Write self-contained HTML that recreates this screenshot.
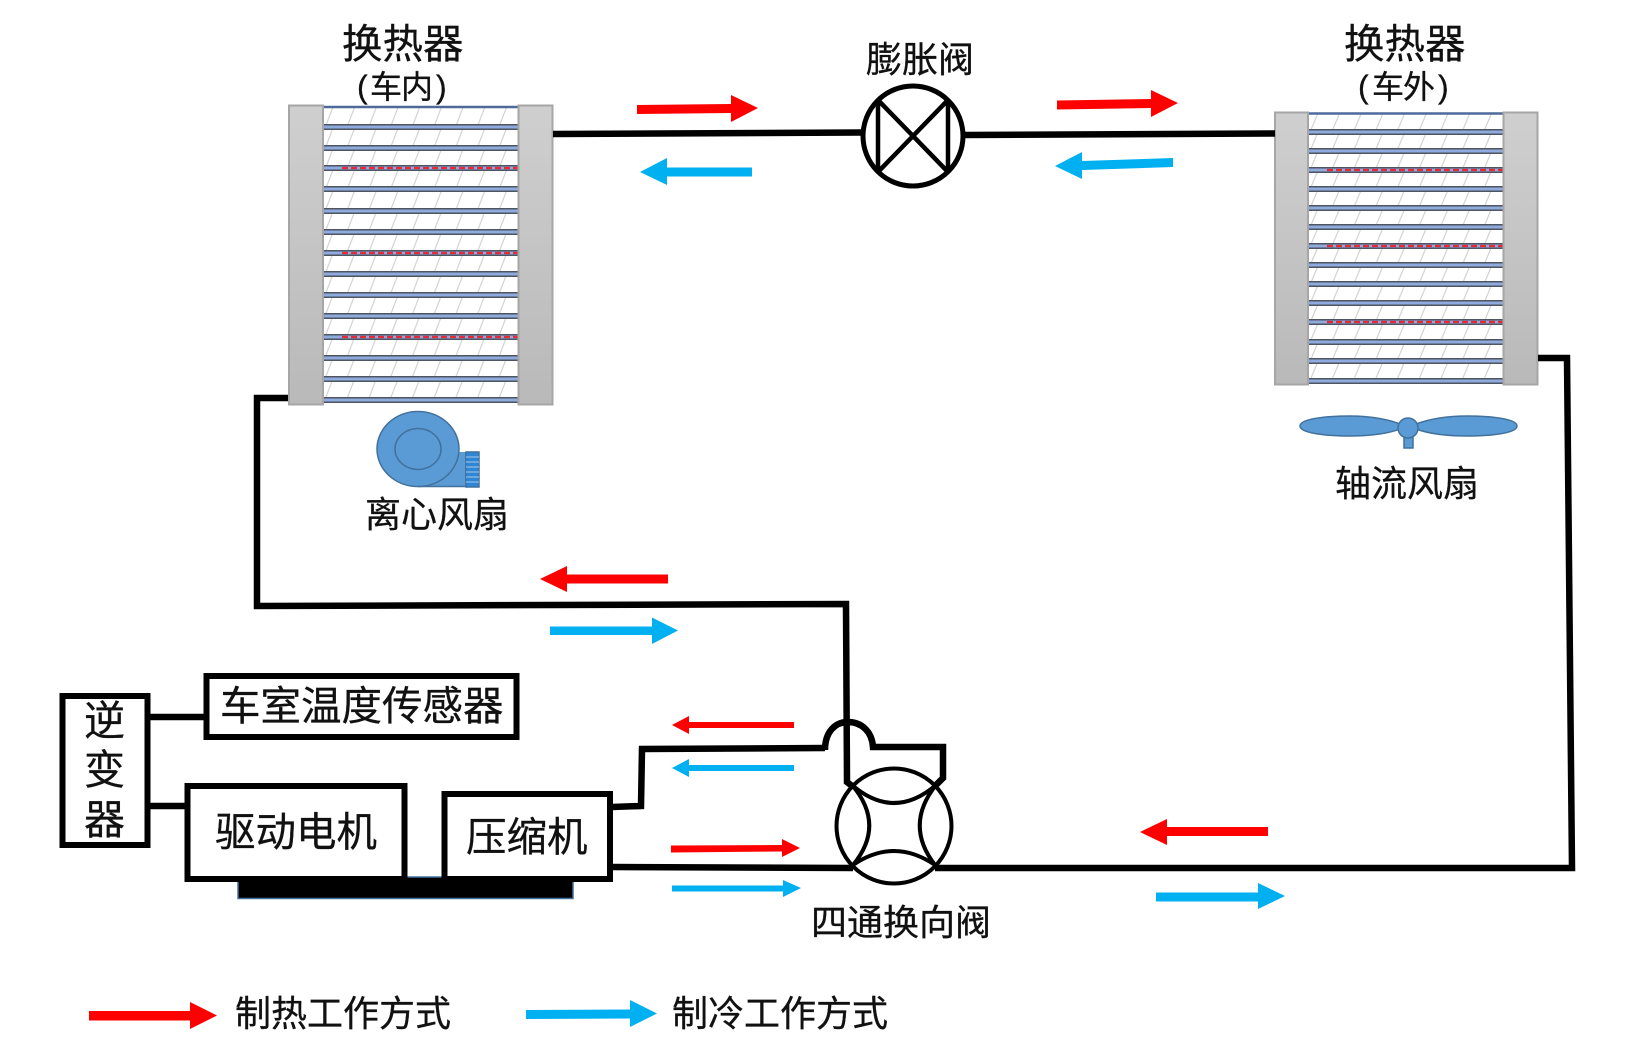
<!DOCTYPE html>
<html lang="zh">
<head>
<meta charset="utf-8">
<title>热泵系统</title>
<style>
html,body{margin:0;padding:0;background:#fff;width:1641px;height:1043px;overflow:hidden}
svg{display:block}
text{font-family:"Liberation Sans","Noto Sans CJK SC",sans-serif;fill:#111;stroke:#111;stroke-width:.3}
</style>
</head>
<body>
<svg xmlns="http://www.w3.org/2000/svg" width="1641" height="1043" viewBox="0 0 1641 1043">
<defs>
<linearGradient id="g" x1="0" y1="0" x2="0" y2="1"><stop offset="0" stop-color="#cfcfcf"/><stop offset="1" stop-color="#b9b9b9"/></linearGradient>
<pattern id="hL" patternUnits="userSpaceOnUse" x="323" y="107" width="21.7" height="20.9"><path d="M2 20.9L10 0" stroke="#cfcfcf" stroke-width="1.1" fill="none"/></pattern>
<pattern id="hR" patternUnits="userSpaceOnUse" x="1308" y="113" width="21.7" height="19.1"><path d="M2 19.1L10 0" stroke="#cfcfcf" stroke-width="1.1" fill="none"/></pattern>
</defs>
<rect width="1641" height="1043" fill="#fff"/>

<!-- left exchanger -->
<rect x="323" y="107" width="195" height="293" fill="url(#hL)"/>
<path d="M323 127H518M323 148H518M323 168H518M323 189H518M323 211H518M323 232H518M323 253H518M323 274H518M323 295H518M323 316H518M323 337H518M323 358H518M323 379H518M323 400H518" stroke="#4d5560" stroke-width="6" fill="none"/>
<path d="M323 107H518" stroke="#4f6a9a" stroke-width="2.5" fill="none"/>
<path d="M323 127H518M323 148H518M323 168H518M323 189H518M323 211H518M323 232H518M323 253H518M323 274H518M323 295H518M323 316H518M323 337H518M323 358H518M323 379H518M323 400H518" stroke="#8faadc" stroke-width="3" fill="none"/>
<path d="M342 168H518M342 253H518M342 337H518" stroke="#e8293a" stroke-width="2.2" stroke-dasharray="6 3" fill="none"/>
<rect x="289" y="105.500" width="34" height="299" fill="url(#g)" stroke="#a6a6a6" stroke-width="2"/>
<rect x="518.500" y="105.500" width="34" height="299" fill="url(#g)" stroke="#a6a6a6" stroke-width="2"/>

<!-- right exchanger -->
<rect x="1308" y="113" width="195" height="268" fill="url(#hR)"/>
<path d="M1308 132H1503M1308 151H1503M1308 170H1503M1308 189H1503M1308 208H1503M1308 227H1503M1308 246H1503M1308 265H1503M1308 284H1503M1308 303H1503M1308 322H1503M1308 342H1503M1308 361H1503M1308 381H1503" stroke="#4d5560" stroke-width="6" fill="none"/>
<path d="M1308 113.500H1503" stroke="#4f6a9a" stroke-width="2.500" fill="none"/>
<path d="M1308 132H1503M1308 151H1503M1308 170H1503M1308 189H1503M1308 208H1503M1308 227H1503M1308 246H1503M1308 265H1503M1308 284H1503M1308 303H1503M1308 322H1503M1308 342H1503M1308 361H1503M1308 381H1503" stroke="#8faadc" stroke-width="3" fill="none"/>
<path d="M1327 170H1503M1327 246H1503M1327 322H1503" stroke="#e8293a" stroke-width="2.200" stroke-dasharray="6 3" fill="none"/>
<rect x="1275" y="112.500" width="33" height="272" fill="url(#g)" stroke="#a6a6a6" stroke-width="2"/>
<rect x="1503.500" y="112.500" width="34" height="272" fill="url(#g)" stroke="#a6a6a6" stroke-width="2"/>

<!-- pipes -->
<g fill="none" stroke="#000" stroke-width="6.500">
<path d="M553 134L862 132.500"/>
<path d="M965 135L1275 133.500"/>
<path d="M1538 358H1567L1572 868H935"/>
<path d="M853 868L612 867"/>
<path d="M288 398H257V606L846 604L847 782L852 786"/>
<path d="M612 807L641 806L642 749L825 748"/>
<path d="M825 750C825 732 835 722 848 722C862 722 872 732 873 747H943V778L936 785"/>
</g>
<path d="M150 717H204M150 806H185" stroke="#000" stroke-width="6.500" fill="none"/>

<!-- expansion valve -->
<g fill="none" stroke="#000">
<circle cx="913" cy="136" r="50" stroke-width="5"/>
<path d="M878 100V172M948 100V172M878 100L948 172M948 100L878 172" stroke-width="4.500"/>
</g>

<!-- four way valve -->
<g fill="none" stroke="#000" stroke-width="4">
<circle cx="894" cy="826" r="57.500"/>
<path d="M852 785Q894 821 936 785M853 865Q894 837 935 865M852 785Q886 825 853 865M936 785Q904 825 935 865"/>
</g>

<!-- boxes -->
<rect x="238" y="877" width="335" height="21.500" fill="#000" stroke="#41719c" stroke-width="1.500"/>
<g fill="#fff" stroke="#000" stroke-width="6">
<rect x="62.500" y="696" width="85" height="149"/>
<rect x="206.500" y="676" width="310" height="61"/>
<rect x="187.500" y="786" width="217" height="93"/>
<rect x="444.500" y="794" width="165.500" height="85"/>
</g>

<!-- centrifugal fan -->
<g fill="#5b9bd5" stroke="#41719c" stroke-width="1.500">
<path d="M418 486.500H466V452H430Z" stroke="none"/>
<ellipse cx="418" cy="449" rx="41" ry="37.500"/>
<path d="M418 486.500H466V452" fill="none"/>
<rect x="466" y="452" width="13" height="35" fill="#2e86d6"/>
<path d="M466 457H479M466 462H479M466 467H479M466 472H479M466 477H479M466 482H479" stroke="#8fbbe6" stroke-width="1.200"/>
<ellipse cx="418" cy="449" rx="23" ry="20.500" fill="#5b9bd5"/>
</g>

<!-- axial fan -->
<g fill="#5b9bd5" stroke="#41719c" stroke-width="1.500">
<rect x="1404" y="436" width="9" height="12"/>
<path d="M1300 426C1300 419 1325 416 1350 416C1372 416 1390 420 1400 424V429C1390 433 1372 436 1350 436C1325 436 1300 433 1300 426Z"/>
<path d="M1517 426C1517 419 1492 416 1467 416C1445 416 1427 420 1416 424V429C1427 433 1445 436 1467 436C1492 436 1517 433 1517 426Z"/>
<circle cx="1408" cy="428" r="10"/>
</g>

<!-- red arrows -->
<g fill="#ff0000">
<path d="M637 105L731 104V95L758 108L731 122V113L637 114Z"/>
<path d="M1057 100.500L1151 99V90L1178 103L1151 117V108L1057 109.500Z"/>
<path d="M540 579L567 566V574.500H668V583.500H567V592Z"/>
<path d="M672 725L689 716V722H794V728H689V734Z"/>
<path d="M671 845.500L782 845V839L800 848L782 857V851.500L671 852.500Z"/>
<path d="M1140 832L1167 819V827H1268V836H1167V845Z"/>
<path d="M89 1011H190V1002L217 1015.500L190 1029V1020.500H89Z"/>
</g>
<!-- blue arrows -->
<g fill="#00b0f0">
<path d="M640 172L667 158V167.500H752V176.500H667V185Z"/>
<path d="M1055 166L1082 152V161L1173 158V167L1082 170V179Z"/>
<path d="M550 626.500H652V617.500L678 630.500L652 644V635H550Z"/>
<path d="M672 768L689 759V765H794V771H689V777Z"/>
<path d="M672 885.500H783V880L801 888L783 897V891.500H672Z"/>
<path d="M1156 892.500H1258V883L1285 896L1258 909V901.500H1156Z"/>
<path d="M526 1010L630 1009.500V1000L657 1013.500L630 1027V1018.500L526 1019Z"/>
</g>

<!-- labels -->
<text x="342" y="58" font-size="40.500">换热器</text>
<text y="98" font-size="32"><tspan x="357">(</tspan><tspan x="370">车</tspan><tspan x="401">内</tspan><tspan x="436">)</tspan></text>
<text x="1344" y="58" font-size="40.500">换热器</text>
<text y="98" font-size="32"><tspan x="1358">(</tspan><tspan x="1372">车</tspan><tspan x="1403">外</tspan><tspan x="1438">)</tspan></text>
<text x="866" y="72" font-size="36">膨胀阀</text>
<text x="365" y="527" font-size="36">离心风扇</text>
<text x="1335" y="496" font-size="36">轴流风扇</text>
<text x="811" y="935" font-size="36">四通换向阀</text>
<text x="220" y="720" font-size="40.500">车室温度传感器</text>
<text x="215" y="846" font-size="40.500">驱动电机</text>
<text x="466" y="851" font-size="40.500">压缩机</text>
<text x="84" y="735" font-size="41">逆</text>
<text x="84" y="784" font-size="41">变</text>
<text x="84" y="834" font-size="41">器</text>
<text x="235" y="1026" font-size="36">制热工作方式</text>
<text x="672" y="1026" font-size="36">制冷工作方式</text>
</svg>
</body>
</html>
